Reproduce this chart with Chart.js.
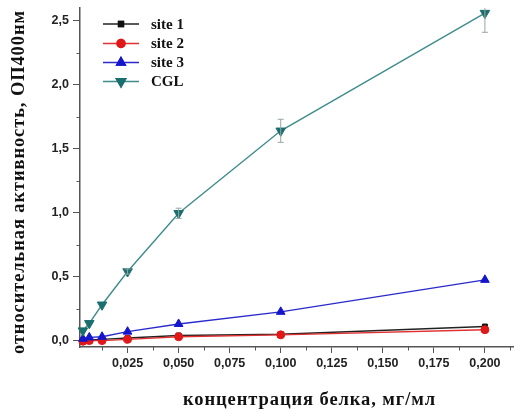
<!DOCTYPE html>
<html><head><meta charset="utf-8">
<script src="https://cdn.jsdelivr.net/npm/chart.js@4/dist/chart.umd.min.js"></script>
<style>html,body{margin:0;padding:0;background:#fff}canvas{display:block}</style>
</head><body>
<canvas id="c" width="520" height="414"></canvas>
<script>
const concentrations = [0.003125, 0.00625, 0.0125, 0.025, 0.05, 0.1, 0.2];
const site1 = [0.0, 0.005, 0.01, 0.02, 0.04, 0.05, 0.11];
const site2 = [-0.005, 0.0, 0.0, 0.01, 0.03, 0.045, 0.085];
const site3 = [0.015, 0.025, 0.03, 0.07, 0.13, 0.225, 0.475];
const cgl = [0.078, 0.135, 0.28, 0.54, 0.995, 1.64, 2.56];
const cglErr = [0.01, 0.01, 0.015, 0.02, 0.04, 0.09, 0.15];
const seriesNames = ['site 1', 'site 2', 'site 3', 'CGL'];
const xTicks = [0.025, 0.05, 0.075, 0.1, 0.125, 0.15, 0.175, 0.2];
const xMinorTicks = [0.0125, 0.0375, 0.0625, 0.0875, 0.1125, 0.1375, 0.1625, 0.1875, 0.2125];
const yTicks = [0, 0.5, 1.0, 1.5, 2.0, 2.5];
const yMinorTicks = [0.25, 0.75, 1.25, 1.75, 2.25];
const xTitle = 'концентрация белка, мг/мл';
const yTitle = 'относительная активность, ОП400нм';

const pts = arr => concentrations.map((x, i) => ({x: x, y: arr[i]}));
const fmtX = v => v.toFixed(3).replace('.', ',');
const fmtY = v => v.toFixed(1).replace('.', ',');

const styles = [
  {color:'#111111', line:'#222222', pointStyle:'rect', radius:3.5, rotation:0},
  {color:'#e01818', line:'#e03030', pointStyle:'circle', radius:4, rotation:0},
  {color:'#1515cc', line:'#2a2acc', pointStyle:'triangle', radius:5, rotation:0},
  {color:'#1a6e6e', line:'#3f8c8c', pointStyle:'triangle', radius:5.5, rotation:180}
];
const dataArrays = [site1, site2, site3, cgl];

const datasets = dataArrays.map((arr, i) => ({
  label: seriesNames[i],
  data: pts(arr),
  borderColor: styles[i].line,
  backgroundColor: styles[i].color,
  pointBackgroundColor: styles[i].color,
  pointBorderColor: styles[i].color,
  pointStyle: styles[i].pointStyle,
  pointRadius: styles[i].radius,
  pointRotation: styles[i].rotation,
  pointBorderWidth: 1,
  borderWidth: 1.4,
  tension: 0,
  clip: false,
  order: 3 - i
}));

const axisColor = '#555555';
const titleFont = 'bold 18.5px "Liberation Serif", "Times New Roman", serif';

function fitText(ctx, text, target) {
  ctx.font = titleFont;
  ctx.letterSpacing = '0px';
  const w = ctx.measureText(text).width;
  const n = [...text].length;
  const sp = (target - w) / n;
  ctx.letterSpacing = sp.toFixed(2) + 'px';
}

const extras = {
  id: 'extras',
  beforeDatasetsDraw(chart) {
    const ctx = chart.ctx;
    const xs = chart.scales.x, ys = chart.scales.y;
    ctx.save();
    ctx.strokeStyle = axisColor;
    ctx.lineWidth = 1;
    xMinorTicks.forEach(v => {
      if (v < xs.min || v > xs.max) return;
      const px = Math.round(xs.getPixelForValue(v)) + 0.5;
      ctx.beginPath(); ctx.moveTo(px, ys.bottom); ctx.lineTo(px, ys.bottom + 3.5); ctx.stroke();
    });
    yMinorTicks.forEach(v => {
      const py = Math.round(ys.getPixelForValue(v)) + 0.5;
      ctx.beginPath(); ctx.moveTo(xs.left, py); ctx.lineTo(xs.left - 3.5, py); ctx.stroke();
    });
    ctx.restore();
    ctx.save();
    ctx.fillStyle = '#111';
    ctx.textBaseline = 'alphabetic';
    ctx.textAlign = 'left';
    fitText(ctx, xTitle, 253);
    ctx.fillText(xTitle, 183, 405);
    ctx.restore();
    ctx.save();
    ctx.fillStyle = '#111';
    ctx.textBaseline = 'alphabetic';
    ctx.textAlign = 'left';
    ctx.translate(23.5, 354);
    ctx.rotate(-Math.PI / 2);
    fitText(ctx, yTitle, 344);
    ctx.fillText(yTitle, 0, 0);
    ctx.restore();
  },
  afterDatasetsDraw(chart) {
    const ctx = chart.ctx;
    const xs = chart.scales.x, ys = chart.scales.y;
    const ca = chart.chartArea;
    ctx.save();
    ctx.beginPath();
    ctx.rect(ca.left, ca.top, ca.right - ca.left, ca.bottom - ca.top);
    ctx.clip();
    ctx.strokeStyle = '#9aa5a5';
    ctx.lineWidth = 1;
    concentrations.forEach((c, i) => {
      const px = xs.getPixelForValue(c);
      const top = ys.getPixelForValue(cgl[i] + cglErr[i]);
      const bot = ys.getPixelForValue(cgl[i] - cglErr[i]);
      if (bot - top < 4) return;
      ctx.beginPath();
      ctx.moveTo(px, top); ctx.lineTo(px, bot);
      ctx.moveTo(px - 3, top); ctx.lineTo(px + 3, top);
      ctx.moveTo(px - 3, bot); ctx.lineTo(px + 3, bot);
      ctx.stroke();
    });
    ctx.restore();
    ctx.save();
    const rowY = [24, 43.5, 62.5, 81.5];
    datasets.forEach((ds, i) => {
      const y = rowY[i];
      ctx.strokeStyle = ds.borderColor;
      ctx.lineWidth = 1.4;
      ctx.beginPath(); ctx.moveTo(103, y); ctx.lineTo(139, y); ctx.stroke();
      Chart.helpers.drawPoint(ctx, {
        pointStyle: ds.pointStyle, rotation: ds.pointRotation, radius: ds.pointRadius, borderWidth: 1
      }, 121, y);
      ctx.fillStyle = ds.pointBackgroundColor;
      ctx.strokeStyle = ds.pointBorderColor;
      ctx.fill(); ctx.stroke();
      ctx.fillStyle = '#111';
      ctx.font = 'bold 15px "Liberation Serif", "Times New Roman", serif';
      ctx.textBaseline = 'middle';
      ctx.textAlign = 'left';
      ctx.fillText(ds.label, 151, y + 1);
    });
    ctx.restore();
  }
};

new Chart(document.getElementById('c'), {
  type: 'line',
  data: { datasets: datasets },
  options: {
    responsive: false,
    animation: false,
    devicePixelRatio: 1,
    layout: { padding: { left: 0, right: 3, top: 8, bottom: 0 } },
    plugins: { legend: { display: false }, tooltip: { enabled: false } },
    scales: {
      x: {
        type: 'linear',
        min: 0.0017, max: 0.214,
        afterBuildTicks: s => { s.ticks = xTicks.map(v => ({value: v})); },
        afterFit: s => { s.height = 67; s.paddingLeft = 0; s.paddingRight = 0; },
        ticks: {
          callback: v => fmtX(v),
          color: '#222',
          font: { family: '"Liberation Sans", Arial, sans-serif', size: 12.5, weight: 'bold' },
          padding: 3,
          maxRotation: 0, autoSkip: false
        },
        grid: { display: true, drawOnChartArea: false, drawTicks: true, tickLength: 6, color: axisColor, lineWidth: 1 },
        border: { display: true, color: axisColor, width: 1.5 },
        title: { display: false }
      },
      y: {
        type: 'linear',
        min: -0.05, max: 2.6,
        afterBuildTicks: s => { s.ticks = yTicks.map(v => ({value: v})); },
        afterFit: s => { s.width = 80; s.paddingTop = 0; s.paddingBottom = 0; },
        ticks: {
          callback: v => fmtY(v),
          color: '#222',
          font: { family: '"Liberation Sans", Arial, sans-serif', size: 12.5, weight: 'bold' },
          padding: 4
        },
        grid: { display: true, drawOnChartArea: false, drawTicks: true, tickLength: 7, color: axisColor, lineWidth: 1 },
        border: { display: true, color: axisColor, width: 1.5 },
        title: { display: false }
      }
    }
  },
  plugins: [extras]
});
</script>
</body></html>
